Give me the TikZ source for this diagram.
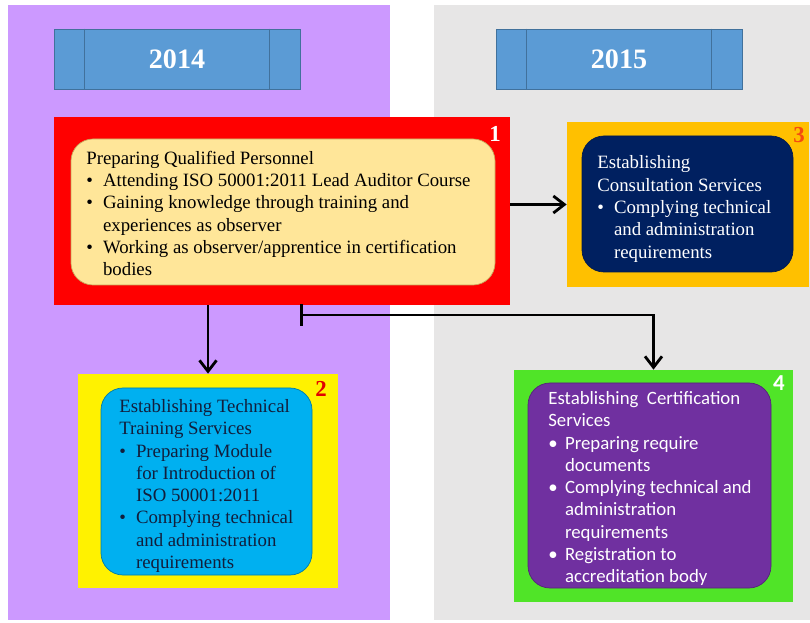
\documentclass[tikz,border=0pt]{standalone}
\usepackage{fontspec}
\setmainfont{Liberation Serif}
\newfontfamily\calibri{Carlito}
\usetikzlibrary{positioning, arrows.meta, calc}

\definecolor{lilac}{RGB}{204,153,255}
\definecolor{paneGray}{RGB}{231,230,230}
\definecolor{bannerBlue}{RGB}{91,155,213}
\definecolor{bannerLine}{RGB}{65,113,156}
\definecolor{paleYellow}{RGB}{255,230,153}
\definecolor{paleYellowLine}{RGB}{200,165,90}
\definecolor{gold}{RGB}{255,192,0}
\definecolor{navy}{RGB}{0,32,96}
\definecolor{skyBlue}{RGB}{0,176,240}
\definecolor{darkText}{RGB}{18,30,60}
\definecolor{limeGreen}{RGB}{80,228,40}
\definecolor{plum}{RGB}{112,48,160}
\definecolor{orangeRed}{RGB}{245,75,15}
\definecolor{deepRed}{RGB}{225,0,0}

\newcommand{\bul}{\makebox[9.5pt][l]{\textbullet}}
\newcommand{\ind}{\hspace*{9.5pt}}

\begin{document}
\begin{tikzpicture}[
  year/.style={draw=bannerLine, fill=bannerBlue, minimum width=4.92cm, minimum height=1.2cm, inner sep=0pt, text=white, font=\bfseries\fontsize{16}{18}\selectfont},
  frame/.style={inner sep=0pt},
  inbox/.style={rounded corners=0.44cm, inner sep=0pt, line width=0.4pt},
  txt/.style={align=left, inner sep=0pt, anchor=north west, font=\fontsize{10.7}{12.7}\selectfont},
  num/.style={inner sep=0pt, font=\bfseries\fontsize{13}{13}\selectfont},
  flow/.style={line width=1.6pt, -{Straight Barb[length=0.22cm, width=0.34cm, line width=1.6pt]}}]
  \useasboundingbox (0,0) rectangle (16.2,12.44);
  \fill[white] (0,0) rectangle (16.2,12.44);

  % year panels
  \fill[lilac] (0.16,0.04) rectangle (7.8,12.34);
  \fill[paneGray] (8.68,0.04) rectangle (16.2,12.34);

  \node[year] (y1) at (3.54,11.26) {2014};
  \node[year] (y2) at (12.38,11.26) {2015};
  \foreach \y in {y1,y2} {
    \draw[bannerLine] ([xshift=0.62cm]\y.north west) -- ([xshift=0.62cm]\y.south west);
    \draw[bannerLine] ([xshift=-0.62cm]\y.north east) -- ([xshift=-0.62cm]\y.south east);
  }

  % 1
  \node[frame, fill=red, minimum width=9.12cm, minimum height=3.76cm] (b1) at (5.64,8.22) {};
  \node[inbox, fill=paleYellow, draw=paleYellowLine, minimum width=8.48cm, minimum height=2.92cm] (in1) at (5.66,8.2) {};
  \node[txt] (t1) at (1.72,9.43) {Preparing Qualified Personnel\\
    \bul Attending ISO 50001:2011 Lead Auditor Course\\
    \bul Gaining knowledge through training and\\
    \ind experiences as observer\\
    \bul Working as observer/apprentice in certification\\
    \ind bodies};
  \node[num, text=white] (n1) at (9.9,9.76) {1};

  % 3
  \node[frame, fill=gold, minimum width=4.84cm, minimum height=3.3cm] (b3) at (13.76,8.35) {};
  \node[inbox, fill=navy, draw=navy!80!black, minimum width=4.22cm, minimum height=2.72cm] (in3) at (13.75,8.36) {};
  \node[txt, text=white] (t3) at (11.94,9.33) {Establishing\\
    Consultation Services\\
    \bul Complying technical\\
    \ind and administration\\
    \ind requirements};
  \node[num, text=orangeRed] (n3) at (15.98,9.74) {3};

  % 2
  \node[frame, fill=yellow, minimum width=5.2cm, minimum height=4.28cm] (b2) at (4.16,2.82) {};
  \node[inbox, fill=skyBlue, draw=skyBlue!70!black, minimum width=4.22cm, minimum height=3.74cm] (in2) at (4.13,2.81) {};
  \node[txt, text=darkText] (t2) at (2.38,4.46) {Establishing Technical\\
    Training Services\\
    \bul Preparing Module\\
    \ind for Introduction of\\
    \ind ISO 50001:2011\\
    \bul Complying technical\\
    \ind and administration\\
    \ind requirements};
  \node[num, text=deepRed] (n2) at (6.42,4.66) {2};

  % 4
  \node[frame, fill=limeGreen, minimum width=5.58cm, minimum height=4.64cm] (b4) at (13.07,2.72) {};
  \node[inbox, fill=plum, draw=plum!75!black, minimum width=4.86cm, minimum height=4.1cm] (in4) at (12.99,2.73) {};
  \node[txt, text=white, font=\calibri\fontsize{10.7}{12.7}\selectfont] (t4) at (10.96,4.62) {Establishing\ \ Certification\\
    Services\\
    \bul Preparing require\\
    \ind documents\\
    \bul Complying technical and\\
    \ind administration\\
    \ind requirements\\
    \bul Registration to\\
    \ind accreditation body};
  \node[num, text=white, font=\calibri\bfseries\fontsize{13}{13}\selectfont] (n4) at (15.58,4.78) {4};

  % connectors
  \coordinate (split) at (6.0,6.14);
  \draw[flow] (b1.east |- b3) -- (b3);
  \draw[flow] (b1.south -| b2) -- (b2);
  \draw[flow, {Bar[width=0.44cm, line width=1.6pt]}-{Straight Barb[length=0.22cm, width=0.34cm, line width=1.6pt]}] (split) -| (b4);
\end{tikzpicture}
\end{document}
